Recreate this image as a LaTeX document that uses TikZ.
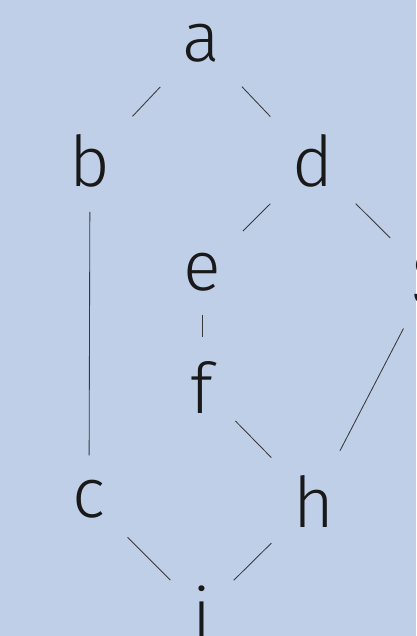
\documentclass[tikz,border=0pt]{standalone}
\usepackage{fontspec}
\setmainfont{Fira Sans}[UprightFont=* Light]
\usepackage{tikz}
\usetikzlibrary{positioning}

\definecolor{latticebg}{RGB}{191,207,232}

\begin{document}
\begin{tikzpicture}[
    x=1pt, y=-1pt,
    lattice node/.style = {
        rectangle,
        inner xsep=22pt,
        inner ysep=24pt,
        anchor=base,
        font=\fontsize{70}{70}\selectfont,
        text=black!90
    },
    cover edge/.style = {line width=0.85pt, black!78}
]

\useasboundingbox (0,0) rectangle (416,636);
\fill[latticebg] (0,0) rectangle (416,636);
\clip (0,0) rectangle (416,636);

\node [lattice node] (a) at (201,62) {a};
\node [lattice node] (b) at (90,187) {b};
\node [lattice node] (d) at (313,187) {d};
\node [lattice node] (e) at (202,290) {e};
\node [lattice node] (g) at (430,290) {g};
\node [lattice node] (f) at (202,413) {f};
\node [lattice node] (c) at (89,517) {c};
\node [lattice node] (h) at (314,527) {h};
\node [lattice node] (i) at (202,638) {i};

\draw[cover edge] (a) -- (b);
\draw[cover edge] (a) -- (d);
\draw[cover edge] (b) -- (c);
\draw[cover edge] (d) -- (e);
\draw[cover edge] (d) -- (g);
\draw[cover edge] (e) -- (f);
\draw[cover edge] (f) -- (h);
\draw[cover edge] (g) -- (h);
\draw[cover edge] (c) -- (i);
\draw[cover edge] (h) -- (i);

\end{tikzpicture}
\end{document}
